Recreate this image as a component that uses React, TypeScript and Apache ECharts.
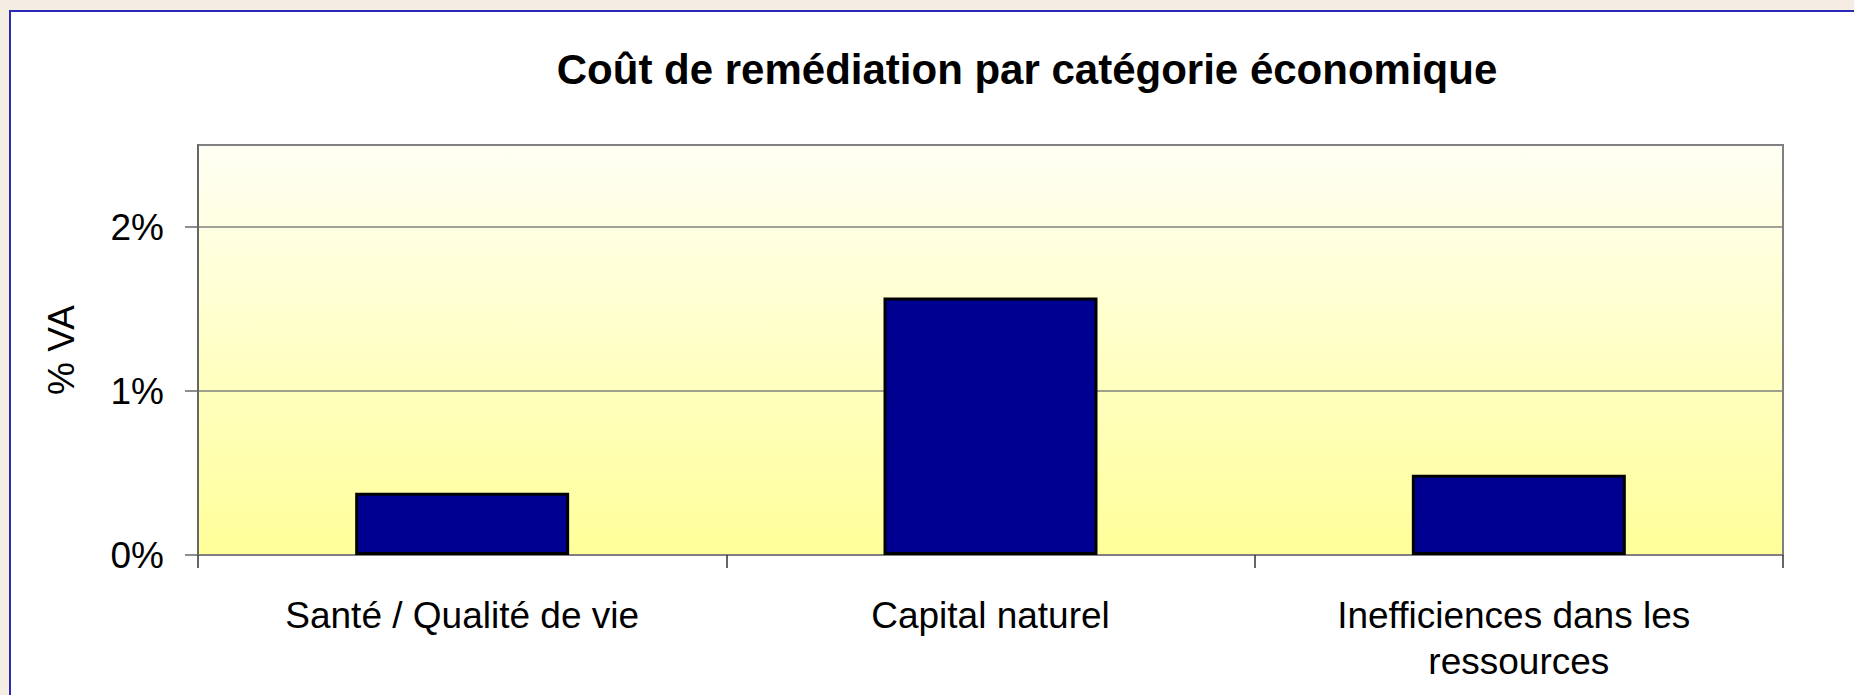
import React, { useEffect, useRef } from "react";
import * as echarts from "echarts";

const title = "Coût de remédiation par catégorie économique";
const yAxisName = "% VA";
const categories = ["Santé / Qualité de vie", "Capital naturel", "Inefficiences dans les ressources"];
const values = [0.38, 1.57, 0.49];
const yTicks = [0, 1, 2];

const FONT = "'Liberation Sans', Arial, sans-serif";

export default function App() {
  const ref = useRef<HTMLDivElement>(null);
  useEffect(() => {
    if (!ref.current) return;
    const chart = echarts.init(ref.current, null, { renderer: "svg" });
    chart.setOption({
      animation: false,
      backgroundColor: "transparent",
      graphic: [
        {
          type: "text",
          x: 1027,
          y: 69,
          style: {
            text: title,
            textAlign: "center",
            textVerticalAlign: "middle",
            fontFamily: FONT,
            fontWeight: "bold",
            fontSize: 42,
            fill: "#000",
          },
        },
      ],
      grid: {
        left: 198,
        top: 145,
        right: 71,
        bottom: 140,
        show: true,
        borderColor: "#808080",
        borderWidth: 2,
        backgroundColor: new echarts.graphic.LinearGradient(0, 0, 0, 1, [
          { offset: 0, color: "#fffff4" },
          { offset: 1, color: "#ffff99" },
        ]),
      },
      xAxis: {
        type: "category",
        data: categories,
        boundaryGap: true,
        axisLine: { show: true, lineStyle: { color: "#808080", width: 2 } },
        axisTick: { show: true, length: 13, interval: 0, lineStyle: { color: "#333", width: 1.5 } },
        axisLabel: {
          interval: 0,
          margin: 37,
          fontFamily: FONT,
          fontSize: 37,
          lineHeight: 46,
          color: "#000",
          width: 440,
          overflow: "break",
        },
        splitLine: { show: false },
      },
      yAxis: {
        type: "value",
        min: 0,
        max: 2.5,
        interval: 1,
        name: yAxisName,
        nameLocation: "middle",
        nameGap: 118,
        nameTextStyle: { fontFamily: FONT, fontSize: 37, color: "#000" },
        axisLine: { show: true, lineStyle: { color: "#666", width: 2 } },
        axisTick: { show: true, length: 13, customValues: yTicks, lineStyle: { color: "#666", width: 1.5 } },
        axisLabel: {
          margin: 34,
          customValues: yTicks,
          fontFamily: FONT,
          fontSize: 37,
          color: "#000",
          formatter: (v: number) => `${v}%`,
        },
        splitLine: { show: true, lineStyle: { color: "#808080", width: 1.5 } },
      },
      series: [
        {
          type: "bar",
          data: values,
          barWidth: "40.5%",
          itemStyle: { color: "#000090", borderColor: "#000", borderWidth: 3 },
        },
      ],
    });
    return () => chart.dispose();
  }, []);

  return (
    <div
      style={{
        position: "fixed",
        left: 0,
        top: 0,
        width: 1854,
        height: 695,
        background: "#f5ede4",
        overflow: "hidden",
      }}
    >
      <div
        style={{
          position: "absolute",
          left: 9,
          top: 10,
          width: 2000,
          height: 800,
          background: "#ffffff",
          border: "2px solid #2a2ab5",
          boxSizing: "border-box",
        }}
      />
      <div ref={ref} style={{ position: "absolute", left: 0, top: 0, width: 1854, height: 695 }} />
    </div>
  );
}
